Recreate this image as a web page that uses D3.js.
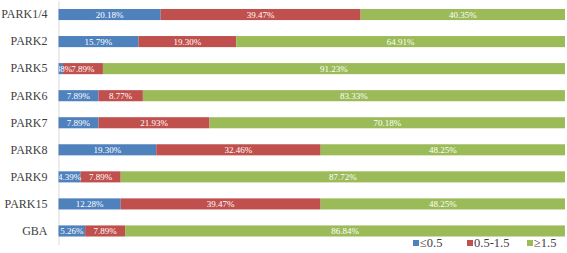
<!DOCTYPE html>
<html>
<head>
<meta charset="utf-8">
<script src="https://cdn.jsdelivr.net/npm/d3@7"></script>
<style>
  body { margin: 0; background: #fff; }
  svg { display: block; }
  svg text { font-family: "Liberation Serif", "Times New Roman", serif; }
</style>
</head>
<body>
<script>
var w = 567;
var h = 253;

// Data
var parks = ["PARK1/4", "PARK2", "PARK5", "PARK6", "PARK7", "PARK8", "PARK9", "PARK15", "GBA"];
var keys = ["≤0.5", "0.5-1.5", "≥1.5"];
var low = [20.18, 15.79, 0.88, 7.89, 7.89, 19.30, 4.39, 12.28, 5.26];
var mid = [39.47, 19.30, 7.89, 8.77, 21.93, 32.46, 7.89, 39.47, 7.89];
var high = [40.35, 64.91, 91.23, 83.33, 70.18, 48.25, 87.72, 48.25, 86.84];
var colors = ["#4f81bd", "#c0504d", "#9bbb59"];

var dataset = parks.map(function(p, i) {
    var obj = { park: p };
    obj[keys[0]] = low[i];
    obj[keys[1]] = mid[i];
    obj[keys[2]] = high[i];
    return obj;
});

var svg = d3.select("body")
            .append("svg")
            .attr("width", w)
            .attr("height", h);

var series = d3.stack().keys(keys)(dataset);

var colorScale = d3.scaleOrdinal()
                   .domain(keys)
                   .range(colors);

var xScale = d3.scaleLinear()
               .domain([0, 100])
               .range([58.5, 565]);

var yScale = d3.scaleBand()
               .domain(parks)
               .range([1, 244.5])
               .paddingInner(0.59)
               .paddingOuter(0.295);

// clip labels to the plot area
svg.append("clipPath")
   .attr("id", "plot")
   .append("rect")
   .attr("x", xScale(0) + 0.5)
   .attr("y", 0)
   .attr("width", w - xScale(0))
   .attr("height", h);

// left axis, no ticks
var yAxis = d3.axisLeft(yScale).tickSize(0).tickPadding(11);
var gy = svg.append("g")
   .attr("transform", "translate(" + xScale(0) + ",0)")
   .call(yAxis)
   .attr("font-family", null);
gy.select(".domain").attr("stroke", "#d9d9d9");
gy.selectAll("text")
  .attr("font-size", "12px")
  .attr("fill", "#404040");

var groups = svg.selectAll(".group")
                .data(series)
                .enter()
                .append("g")
                .attr("class", "group")
                .attr("fill", function(d) { return colorScale(d.key); });

groups.selectAll("rect")
      .data(function(d) { return d; })
      .enter()
      .append("rect")
      .attr("y", function(d) { return yScale(d.data.park); })
      .attr("x", function(d) { return xScale(d[0]); })
      .attr("height", yScale.bandwidth())
      .attr("width", function(d) { return xScale(d[1]) - xScale(d[0]); });

// value labels, drawn on top of all bars
var labels = svg.append("g").attr("clip-path", "url(#plot)");
labels.selectAll(".lblgroup")
      .data(series)
      .enter()
      .append("g")
      .attr("class", "lblgroup")
      .selectAll("text")
      .data(function(d) { return d; })
      .enter()
      .append("text")
      .attr("x", function(d) { return (xScale(d[0]) + xScale(d[1])) / 2; })
      .attr("y", function(d) { return yScale(d.data.park) + yScale.bandwidth() / 2; })
      .attr("dy", "0.35em")
      .attr("text-anchor", "middle")
      .attr("fill", "#fff")
      .attr("font-size", "9px")
      .text(function(d) { return (d[1] - d[0]).toFixed(2) + "%"; });

// legend
var legendX = [413, 467, 527];
var legend = svg.selectAll(".legend")
                .data(keys)
                .enter()
                .append("g")
                .attr("class", "legend")
                .attr("transform", function(d, i) { return "translate(" + legendX[i] + ",243)"; });

legend.append("rect")
      .attr("x", 0)
      .attr("y", -3)
      .attr("width", 6)
      .attr("height", 6)
      .attr("fill", function(d) { return colorScale(d); });

legend.append("text")
      .attr("x", 7)
      .attr("y", 0)
      .attr("dy", "0.35em")
      .attr("font-size", "12.5px")
      .attr("fill", "#404040")
      .text(function(d) { return d; });
</script>
</body>
</html>
